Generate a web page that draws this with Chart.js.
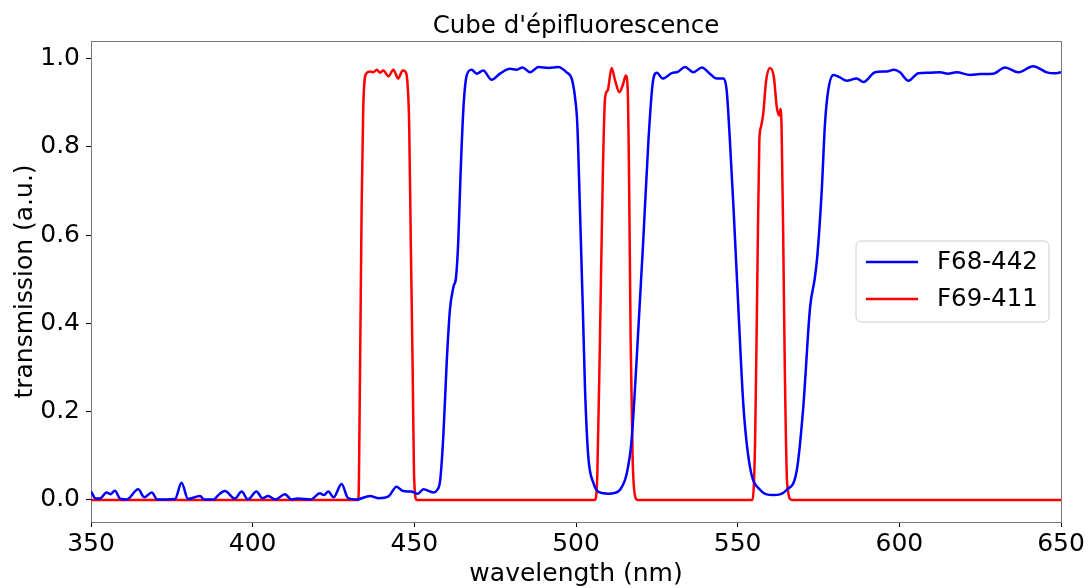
<!DOCTYPE html>
<html lang="en">
<head>
    <meta charset="UTF-8">
    <title>Cube d'épifluorescence</title>
    <script src="https://cdn.jsdelivr.net/npm/chart.js"></script>
    <style>
        html, body { margin: 0; padding: 0; background: #fff; }
        #wrap { width: 1088px; height: 588px; }
    </style>
</head>
<body>
<div id="wrap"><canvas id="filterChart" width="1088" height="588"></canvas></div>
<script>
// values
const blueNm = [350, 351.5, 353, 354.8, 356, 357.4, 359, 361, 364.6, 366.5,
    368.8, 370.5, 373, 376, 378, 380, 383.7, 385, 388, 389.5,
    391.4, 394.5, 396.6, 398.5, 401.2, 403, 404.8, 407, 410, 412,
    414, 418, 420.8, 422, 423.4, 425, 427.5, 429.5, 432.1, 436.3,
    439, 442, 444.5, 446.5, 449, 451.1, 452.8, 455.9, 457, 458,
    459, 460, 461, 462.1, 462.9, 463.6, 464.3, 465.2, 466.2, 467.7,
    469.3, 471.3, 473.9, 476.5, 479.6, 481.5, 483.5, 485.8, 488.4, 491.5,
    494.5, 497.1, 498.7, 499.7, 500.4, 501.2, 502.1, 502.8, 503.8, 505.4,
    506.4, 508.5, 510, 512, 513.6, 515.7, 517.2, 518.8, 520.8, 522.4,
    523.7, 525, 526.8, 529.6, 531.5, 533.7, 536.3, 538.9, 541.4, 543.5,
    545.6, 546.6, 547.6, 548.7, 550.2, 551.8, 553.8, 556.9, 561, 565.2,
    568.3, 570.3, 572.4, 573.8, 574.6, 576, 577, 578, 579.6, 581.5,
    583.7, 586.8, 588.9, 592.5, 596.1, 598.4, 600.2, 602.8, 605.9, 609,
    612.6, 615, 617.7, 621.9, 625, 629.1, 632.7, 636.8, 641.4, 645.6,
    648, 650];
const blueVal = [0.019, 0.003, 0.004, 0.017, 0.013, 0.021, 0.003, 0.001, 0.024, 0.006,
    0.017, 0.001, 0.001, 0.002, 0.039, 0.002, 0.009, 0.001, 0.001, 0.012,
    0.020, 0.003, 0.019, 0.001, 0.019, 0.004, 0.009, 0.001, 0.013, 0.001,
    0.003, 0.001, 0.015, 0.011, 0.019, 0.006, 0.036, 0.004, 0.001, 0.009,
    0.004, 0.008, 0.030, 0.020, 0.019, 0.014, 0.024, 0.017, 0.022, 0.045,
    0.150, 0.310, 0.430, 0.483, 0.505, 0.588, 0.739, 0.890, 0.962, 0.975,
    0.966, 0.973, 0.952, 0.966, 0.977, 0.975, 0.980, 0.969, 0.981, 0.979,
    0.981, 0.969, 0.954, 0.912, 0.852, 0.664, 0.437, 0.249, 0.098, 0.038,
    0.022, 0.015, 0.014, 0.016, 0.023, 0.060, 0.136, 0.324, 0.588, 0.814,
    0.943, 0.968, 0.955, 0.967, 0.970, 0.981, 0.969, 0.980, 0.966, 0.955,
    0.955, 0.928, 0.814, 0.664, 0.437, 0.211, 0.075, 0.023, 0.011, 0.023,
    0.068, 0.211, 0.437, 0.500, 0.550, 0.701, 0.852, 0.928, 0.963, 0.958,
    0.950, 0.955, 0.947, 0.969, 0.971, 0.975, 0.969, 0.950, 0.967, 0.968,
    0.969, 0.966, 0.969, 0.963, 0.965, 0.966, 0.980, 0.969, 0.983, 0.969,
    0.967, 0.969];

const redNm = [350, 432.7, 433.2, 433.7, 434.2, 435.1, 436.3, 437.3, 438.4, 439.4,
    440.4, 442, 443.5, 445, 446.4, 447.4, 447.9, 448.4, 448.9, 449.5,
    449.9, 450.7, 505.9, 506.6, 507.4, 508.3, 509, 509.8, 511, 512.1,
    513.4, 514.6, 515.4, 516, 516.4, 516.9, 517.5, 518.2, 519, 554.6,
    555.4, 556.1, 556.7, 557.2, 557.9, 558.8, 560, 561.2, 562.1, 562.8,
    563.3, 563.6, 564.1, 564.6, 565.3, 566.7, 650];
const redVal = [0, 0, 0.287, 0.664, 0.890, 0.966, 0.971, 0.969, 0.975, 0.968,
    0.973, 0.960, 0.975, 0.955, 0.973, 0.969, 0.943, 0.852, 0.588, 0.287,
    0.060, 0, 0, 0.060, 0.362, 0.739, 0.912, 0.928, 0.979, 0.950,
    0.924, 0.943, 0.962, 0.928, 0.739, 0.362, 0.098, 0.011, 0, 0,
    0.136, 0.513, 0.814, 0.845, 0.875, 0.950, 0.979, 0.958, 0.890, 0.871,
    0.886, 0.837, 0.588, 0.287, 0.038, 0, 0];

const xTicks = [350, 400, 450, 500, 550, 600, 650];
const yTicks = [0.0, 0.2, 0.4, 0.6, 0.8, 1.0];
const seriesNames = ['F68-442', 'F69-411'];

const FONT = 'DejaVu Sans';

function toPoints(xs, ys) {
    return xs.map((x, i) => ({ x: x, y: ys[i] }));
}

// title, axis labels, top/right spines and the legend box
const extras = {
    id: 'extras',
    afterDraw(chart) {
        const ctx = chart.ctx;
        const a = chart.chartArea;
        ctx.save();
        ctx.strokeStyle = '#777';
        ctx.lineWidth = 1;
        ctx.beginPath();
        ctx.moveTo(a.left, a.top + 0.5);
        ctx.lineTo(a.right + 0.5, a.top + 0.5);
        ctx.lineTo(a.right + 0.5, a.bottom);
        ctx.stroke();

        ctx.fillStyle = '#000';
        ctx.textAlign = 'center';
        ctx.textBaseline = 'alphabetic';
        ctx.font = '24.5px "' + FONT + '"';
        ctx.fillText("Cube d'épifluorescence", (a.left + a.right) / 2, 33);
        ctx.font = '25px "' + FONT + '"';
        ctx.fillText('wavelength (nm)', (a.left + a.right) / 2, 581);
        ctx.save();
        ctx.translate(32, (a.top + a.bottom) / 2);
        ctx.rotate(-Math.PI / 2);
        ctx.fillText('transmission (a.u.)', 0, 0);
        ctx.restore();

        // legend
        const bx = 856, by = 241, bw = 193, bh = 81, r = 5;
        ctx.fillStyle = 'rgba(255,255,255,0.8)';
        ctx.strokeStyle = '#cccccc';
        ctx.beginPath();
        ctx.moveTo(bx + r, by);
        ctx.arcTo(bx + bw, by, bx + bw, by + bh, r);
        ctx.arcTo(bx + bw, by + bh, bx, by + bh, r);
        ctx.arcTo(bx, by + bh, bx, by, r);
        ctx.arcTo(bx, by, bx + bw, by, r);
        ctx.closePath();
        ctx.fill();
        ctx.stroke();

        ctx.textAlign = 'left';
        ctx.textBaseline = 'middle';
        ctx.font = '24.5px "' + FONT + '"';
        chart.data.datasets.forEach((ds, i) => {
            const ly = 262 + i * 37;
            ctx.strokeStyle = ds.borderColor;
            ctx.lineWidth = 2.5;
            ctx.beginPath();
            ctx.moveTo(866, ly);
            ctx.lineTo(918, ly);
            ctx.stroke();
            ctx.fillStyle = '#000';
            ctx.fillText(ds.label, 937, ly + 1);
        });
        ctx.restore();
    }
};

const ctx = document.getElementById('filterChart').getContext('2d');
const filterChart = new Chart(ctx, {
    type: 'line',
    data: {
        datasets: [{
            label: seriesNames[0],
            data: toPoints(blueNm, blueVal),
            borderColor: '#0000ff',
            borderWidth: 2.5,
            pointRadius: 0,
            cubicInterpolationMode: 'monotone',
            fill: false
        }, {
            label: seriesNames[1],
            data: toPoints(redNm, redVal),
            borderColor: '#ff0000',
            borderWidth: 2.5,
            pointRadius: 0,
            cubicInterpolationMode: 'monotone',
            fill: false
        }]
    },
    options: {
        responsive: false,
        animation: false,
        events: [],
        layout: { padding: { top: 41, right: 27, left: 0, bottom: 0 } },
        plugins: {
            legend: { display: false },
            title: { display: false },
            tooltip: { enabled: false }
        },
        scales: {
            x: {
                type: 'linear',
                min: 350,
                max: 650,
                afterBuildTicks: s => { s.ticks = xTicks.map(v => ({ value: v })); },
                afterFit: s => { s.height = 66; },
                grid: { drawOnChartArea: false, drawTicks: true, tickLength: 5, color: '#000' },
                border: { color: '#777', width: 1 },
                ticks: {
                    color: '#000',
                    padding: 2,
                    maxRotation: 0,
                    font: { family: FONT, size: 25 }
                }
            },
            y: {
                min: -0.05,
                max: 1.04,
                afterBuildTicks: s => { s.ticks = yTicks.map(v => ({ value: v })); },
                afterFit: s => { s.width = 91; },
                grid: { drawOnChartArea: false, drawTicks: true, tickLength: 5, color: '#000' },
                border: { color: '#777', width: 1 },
                ticks: {
                    color: '#000',
                    padding: 6,
                    callback: v => Number(v).toFixed(1),
                    font: { family: FONT, size: 25 }
                }
            }
        }
    },
    plugins: [extras]
});
</script>
</body>
</html>
